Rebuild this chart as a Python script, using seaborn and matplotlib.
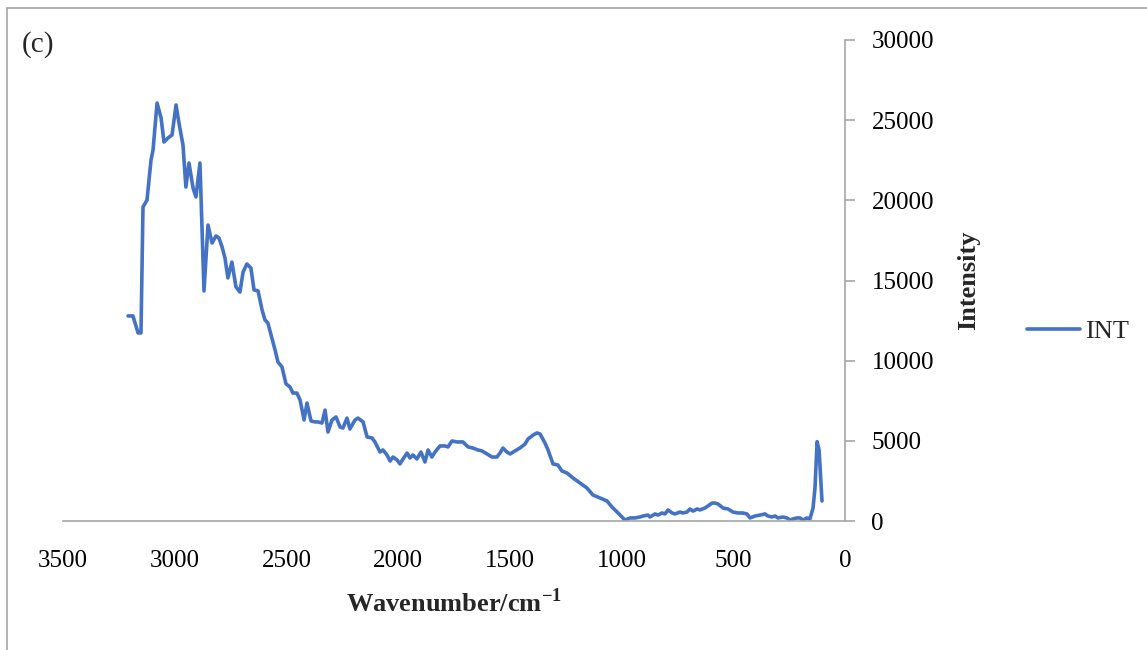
import matplotlib
matplotlib.use("Agg")
import matplotlib.pyplot as plt
import seaborn as sns
import pandas as pd

# Raman spectrum (wavenumber in cm^-1, intensity in counts)
wavenumber = [
    3209, 3187, 3164, 3151, 3142, 3124, 3106, 3097, 3079, 3061,
    3048, 3030, 3012, 2994, 2981, 2963, 2950, 2936, 2918, 2905,
    2887, 2869, 2851, 2833, 2815, 2802, 2788, 2775, 2762, 2744,
    2726, 2708, 2694, 2677, 2659, 2645, 2627, 2609, 2596, 2583,
    2565, 2551, 2538, 2520, 2502, 2484, 2471, 2453, 2439, 2421,
    2408, 2390, 2372, 2359, 2341, 2327, 2314, 2296, 2278, 2260,
    2247, 2229, 2216, 2193, 2180, 2157, 2139, 2117, 2104, 2081,
    2068, 2050, 2036, 2023, 2005, 1992, 1978, 1960, 1947, 1934,
    1916, 1898, 1880, 1866, 1849, 1835, 1813, 1790, 1777, 1759,
    1737, 1710, 1687, 1665, 1643, 1625, 1602, 1580, 1558, 1544,
    1531, 1513, 1499, 1477, 1455, 1432, 1419, 1396, 1379, 1365,
    1343, 1329, 1307, 1285, 1267, 1244, 1217, 1186, 1155, 1128,
    1097, 1065, 1043, 1020, 998, 985, 962, 940, 918, 904,
    882, 873, 850, 837, 819, 806, 792, 774, 761, 739,
    725, 707, 694, 680, 662, 649, 627, 613, 595, 582,
    568, 546, 524, 501, 479, 457, 439, 425, 403, 380,
    358, 345, 327, 313, 300, 278, 260, 246, 233, 215,
    201, 188, 170, 157, 143, 134, 125, 116, 103,
]
intensity = [
    12790, 12790, 11730, 11730, 19580, 20020, 22520, 23140, 26070, 25140,
    23640, 23890, 24080, 25950, 24820, 23450, 20830, 22330, 20770, 20210,
    22330, 14350, 18460, 17340, 17780, 17650, 17090, 16400, 15160, 16150,
    14600, 14280, 15530, 16030, 15780, 14410, 14350, 13160, 12540, 12350,
    11410, 10670, 9920, 9610, 8550, 8360, 7980, 7980, 7550, 6300,
    7360, 6240, 6180, 6180, 6110, 6920, 5550, 6300, 6490, 5860,
    5800, 6420, 5740, 6300, 6420, 6180, 5240, 5180, 4930, 4300,
    4430, 4120, 3740, 3990, 3810, 3560, 3870, 4240, 3930, 4120,
    3870, 4300, 3680, 4430, 3990, 4300, 4680, 4680, 4620, 4990,
    4930, 4930, 4620, 4550, 4430, 4370, 4180, 3990, 3990, 4240,
    4550, 4300, 4180, 4370, 4550, 4800, 5110, 5360, 5490, 5430,
    4870, 4430, 3560, 3490, 3120, 2990, 2680, 2370, 2060, 1620,
    1440, 1250, 870, 560, 250, 60, 190, 190, 250, 310,
    370, 250, 440, 370, 500, 440, 690, 500, 440, 560,
    500, 560, 750, 620, 750, 690, 810, 940, 1120, 1120,
    1060, 810, 750, 560, 500, 500, 440, 190, 310, 370,
    440, 310, 250, 310, 190, 250, 190, 60, 130, 190,
    190, 60, 190, 130, 810, 2120, 4950, 4430, 1250,
]
series_name = "INT"
x_ticks = [3500, 3000, 2500, 2000, 1500, 1000, 500, 0]
y_ticks = [0, 5000, 10000, 15000, 20000, 25000, 30000]

df = pd.DataFrame({"Wavenumber": wavenumber, "Intensity": intensity})

sns.set_theme(style="white")
plt.rcParams["font.family"] = ["Liberation Serif", "DejaVu Serif"]
plt.rcParams["mathtext.fontset"] = "custom"
plt.rcParams["mathtext.rm"] = "Liberation Serif:bold"
plt.rcParams["mathtext.bf"] = "Liberation Serif:bold"

W, H = 1147, 650
fig = plt.figure(figsize=(W / 100, H / 100), dpi=100)
ax = fig.add_axes([63 / W, 1 - 521 / H, (845 - 63) / W, (521 - 40) / H])

line_color = "#4472C4"
axis_gray = "#A6A6A6"

sns.lineplot(data=df, x="Wavenumber", y="Intensity", ax=ax, sort=False,
             estimator=None, color=line_color, linewidth=2.6, label=series_name)

ax.set_xlim(3500, 0)
ax.set_ylim(0, 30000)
ax.set_xticks(x_ticks)
ax.set_yticks(y_ticks)
ax.set_xticklabels([str(v) for v in x_ticks])
ax.set_yticklabels([str(v) for v in y_ticks])

ax.yaxis.tick_right()
ax.yaxis.set_label_position("right")
for side in ("left", "top"):
    ax.spines[side].set_visible(False)
for side in ("right", "bottom"):
    ax.spines[side].set_color(axis_gray)
    ax.spines[side].set_linewidth(1.2)

ax.tick_params(axis="both", which="major", direction="out", length=7,
               width=1.2, color=axis_gray, labelsize=18, labelcolor="black")
ax.tick_params(axis="x", pad=14)
ax.tick_params(axis="y", pad=12, left=False, right=True)

ax.set_xlabel(r"Wavenumber/cm$^{-1}$", fontsize=19, fontweight="bold")
ax.set_ylabel("Intensity", fontsize=19, fontweight="bold", rotation=90)
ax.xaxis.set_label_coords(0.5, -0.14)
ax.yaxis.set_label_coords(1.143, 0.5)

ax.get_legend().remove()
handles, labels = ax.get_legend_handles_labels()
fig.legend(handles, labels, loc="center left",
           bbox_to_anchor=(1027 / W, 1 - 331 / H), frameon=False,
           borderaxespad=0, borderpad=0,
           fontsize=19, handlelength=2.0, handletextpad=0.2)

fig.text(22 / W, 1 - 45 / H, "(c)", fontsize=21, va="center", ha="left")

# light frame around the panel
fig.add_artist(plt.Line2D([7 / W, 1.0], [1 - 8 / H, 1 - 8 / H],
                          transform=fig.transFigure, color=axis_gray, lw=1.2))
fig.add_artist(plt.Line2D([7 / W, 7 / W], [0.0, 1 - 8 / H],
                          transform=fig.transFigure, color=axis_gray, lw=1.2))

fig.savefig("out.png", dpi=100)
